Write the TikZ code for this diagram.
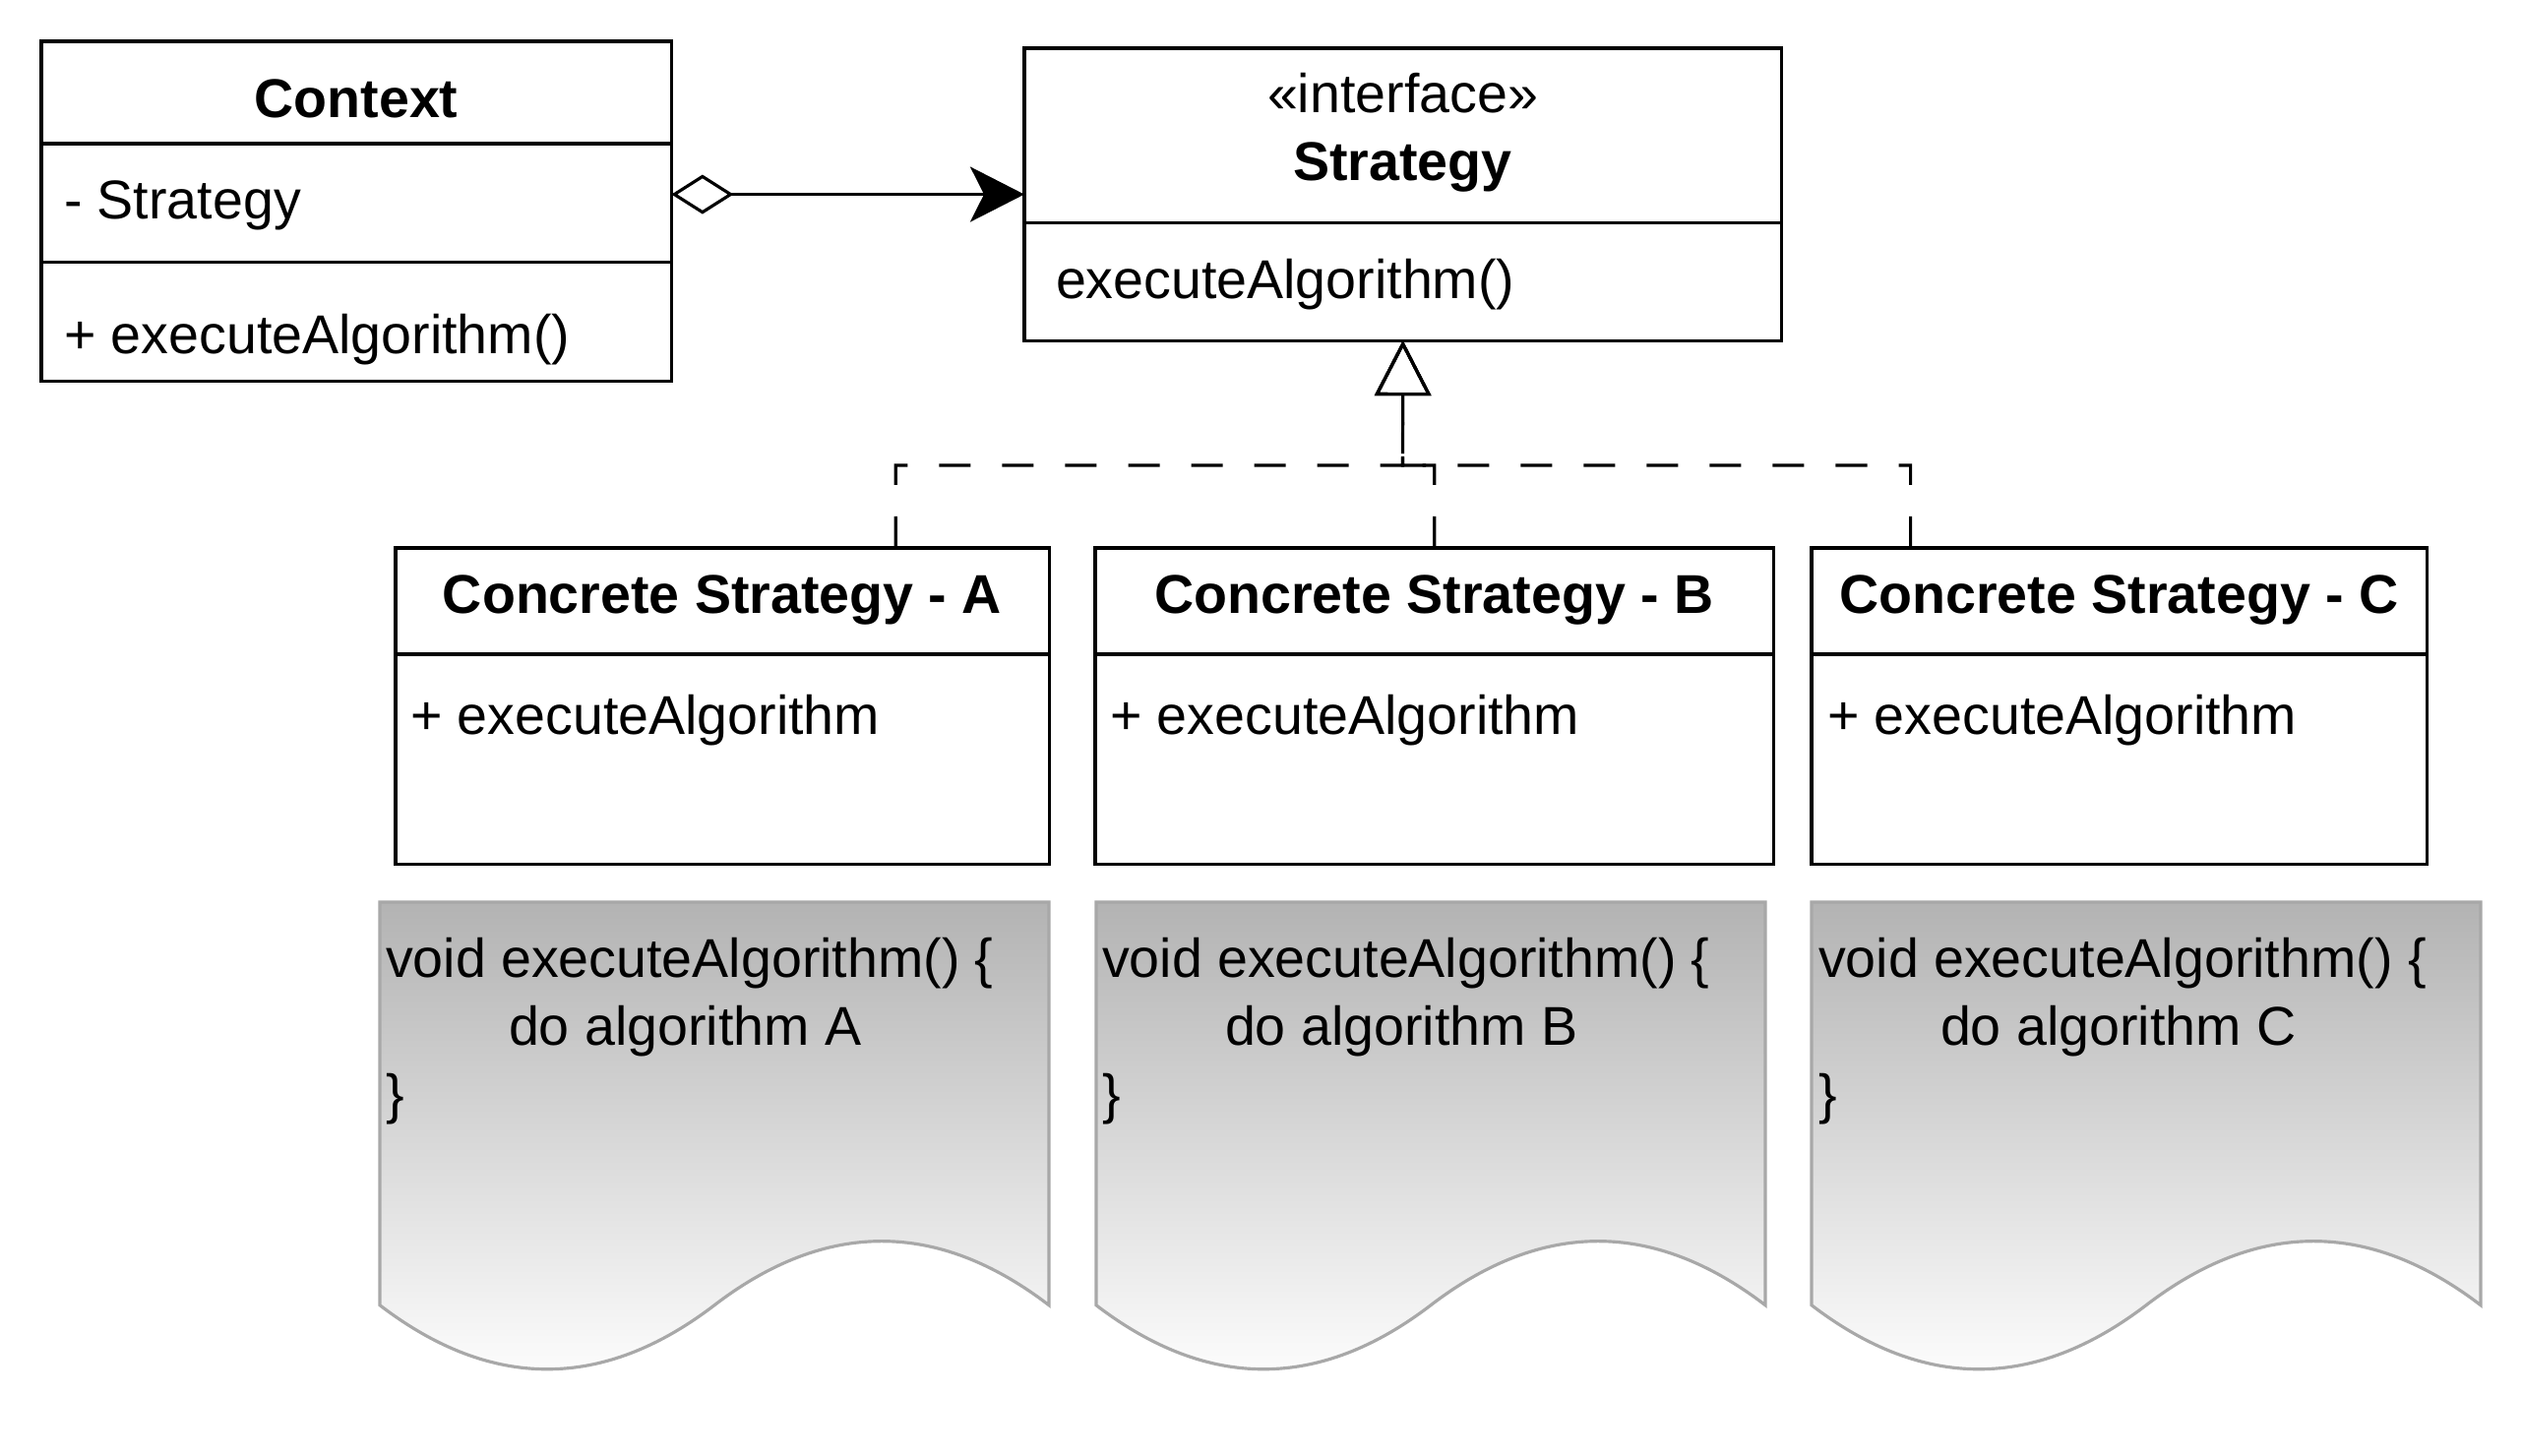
\documentclass[tikz,border=0pt]{standalone}
\usepackage{fontspec}
\setmainfont{Liberation Sans}
\usetikzlibrary{arrows.meta}
\definecolor{docTop}{HTML}{B3B3B3}
\definecolor{docLine}{HTML}{A8A8A8}
\newcommand{\drawdocshape}[1]{%
  \begin{scope}[shift={(#1,0)}]
    \draw[docstyle] (0,917) -- (680,917) -- (680,1326.7)
      .. controls (566.67,1239.97) and (453.33,1239.97) .. (340,1326.7)
      .. controls (226.67,1413.43) and (113.33,1413.43) .. (0,1326.7) -- cycle;
  \end{scope}}
\begin{document}
\begin{tikzpicture}[x=0.01cm,y=-0.01cm,
  txt/.style={inner sep=0pt, outer sep=0pt, font=\fontsize{15.8pt}{19.6pt}\selectfont},
  ttl/.style={inner sep=0pt, outer sep=0pt, font=\fontsize{15.8pt}{19.6pt}\selectfont\bfseries},
  umlbox/.style={draw, line width=0.9pt, rectangle, inner sep=0pt, outer sep=0pt, anchor=north west},
  divider/.style={line width=0.9pt},
  realize/.style={line width=0.9pt, dash pattern=on 0.32cm off 0.32cm, -{Triangle[open, length=0.56cm, width=0.57cm]}},
  agg/.style={line width=0.9pt, {Diamond[open,length=0.63cm,width=0.40cm]}-{Stealth[length=0.55cm,width=0.56cm,inset=0.14cm]}},
  docstyle/.style={draw=docLine, line width=0.9pt, top color=docTop, bottom color=white},
]
\useasboundingbox (0,0) rectangle (2564,1480);

% Context
\node[umlbox, minimum width=6.40cm, minimum height=3.45cm] (ctx) at (42,42) {};
\draw[divider] ([yshift=-1.04cm]ctx.north west) -- ([yshift=-1.04cm]ctx.north east);
\draw[divider] ([yshift=-2.24cm]ctx.north west) -- ([yshift=-2.24cm]ctx.north east);
\node[ttl, anchor=base] (ctxT) at (362,120) {Context};
\node[txt, anchor=base west] (ctxA) at (65,223) {- Strategy};
\node[txt, anchor=base west] (ctxM) at (65,360) {+ executeAlgorithm()};

% Strategy
\node[umlbox, minimum width=7.69cm, minimum height=2.97cm] (st) at (1041,49) {};
\draw[divider] ([yshift=-1.77cm]st.north west) -- ([yshift=-1.77cm]st.north east);
\node[txt, anchor=base] (stS) at (1425.5,115) {«interface»};
\node[ttl, anchor=base] (stT) at (1425.5,184) {Strategy};
\node[txt, anchor=base west] (stM) at (1073,304) {executeAlgorithm()};

% Concrete strategies
\node[umlbox, minimum width=6.64cm, minimum height=3.21cm] (ca) at (402,557) {};
\draw[divider] ([yshift=-1.08cm]ca.north west) -- ([yshift=-1.08cm]ca.north east);
\node[ttl, anchor=base] (caT) at (734,624) {Concrete Strategy - A};
\node[txt, anchor=base west] (caM) at (417,747) {+ executeAlgorithm};

\node[umlbox, minimum width=6.89cm, minimum height=3.21cm] (cb) at (1113,557) {};
\draw[divider] ([yshift=-1.08cm]cb.north west) -- ([yshift=-1.08cm]cb.north east);
\node[ttl, anchor=base] (cbT) at (1457.5,624) {Concrete Strategy - B};
\node[txt, anchor=base west] (cbM) at (1128,747) {+ executeAlgorithm};

\node[umlbox, minimum width=6.25cm, minimum height=3.21cm] (cc) at (1841,557) {};
\draw[divider] ([yshift=-1.08cm]cc.north west) -- ([yshift=-1.08cm]cc.north east);
\node[ttl, anchor=base] (ccT) at (2153.5,624) {Concrete Strategy - C};
\node[txt, anchor=base west] (ccM) at (1857,747) {+ executeAlgorithm};

% Notes
\drawdocshape{386}
\drawdocshape{1114}
\drawdocshape{1841}
\node[txt, anchor=base west] (da1) at (392,994) {void executeAlgorithm() \{};
\node[txt, anchor=base west] (da2) at (517,1063) {do algorithm A};
\node[txt, anchor=base west] (da3) at (392,1132) {\}};
\node[txt, anchor=base west] (db1) at (1120,994) {void executeAlgorithm() \{};
\node[txt, anchor=base west] (db2) at (1245,1063) {do algorithm B};
\node[txt, anchor=base west] (db3) at (1120,1132) {\}};
\node[txt, anchor=base west] (dc1) at (1848,994) {void executeAlgorithm() \{};
\node[txt, anchor=base west] (dc2) at (1972,1063) {do algorithm C};
\node[txt, anchor=base west] (dc3) at (1848,1132) {\}};

% Connectors
\draw[agg] (ctx.east |- st.west) -- (st.west);
\coordinate (aj) at ([xshift=5.08cm]ca.north west);
\coordinate (cj) at ([xshift=1.005cm]cc.north west);
\coordinate (jn) at (1425.5,473);
\draw[realize] (aj) |- (jn) -- (st.south);
\draw[realize] (cb.north) |- (jn) -- (st.south);
\draw[realize] (cj) |- (jn) -- (st.south);
\end{tikzpicture}
\end{document}
